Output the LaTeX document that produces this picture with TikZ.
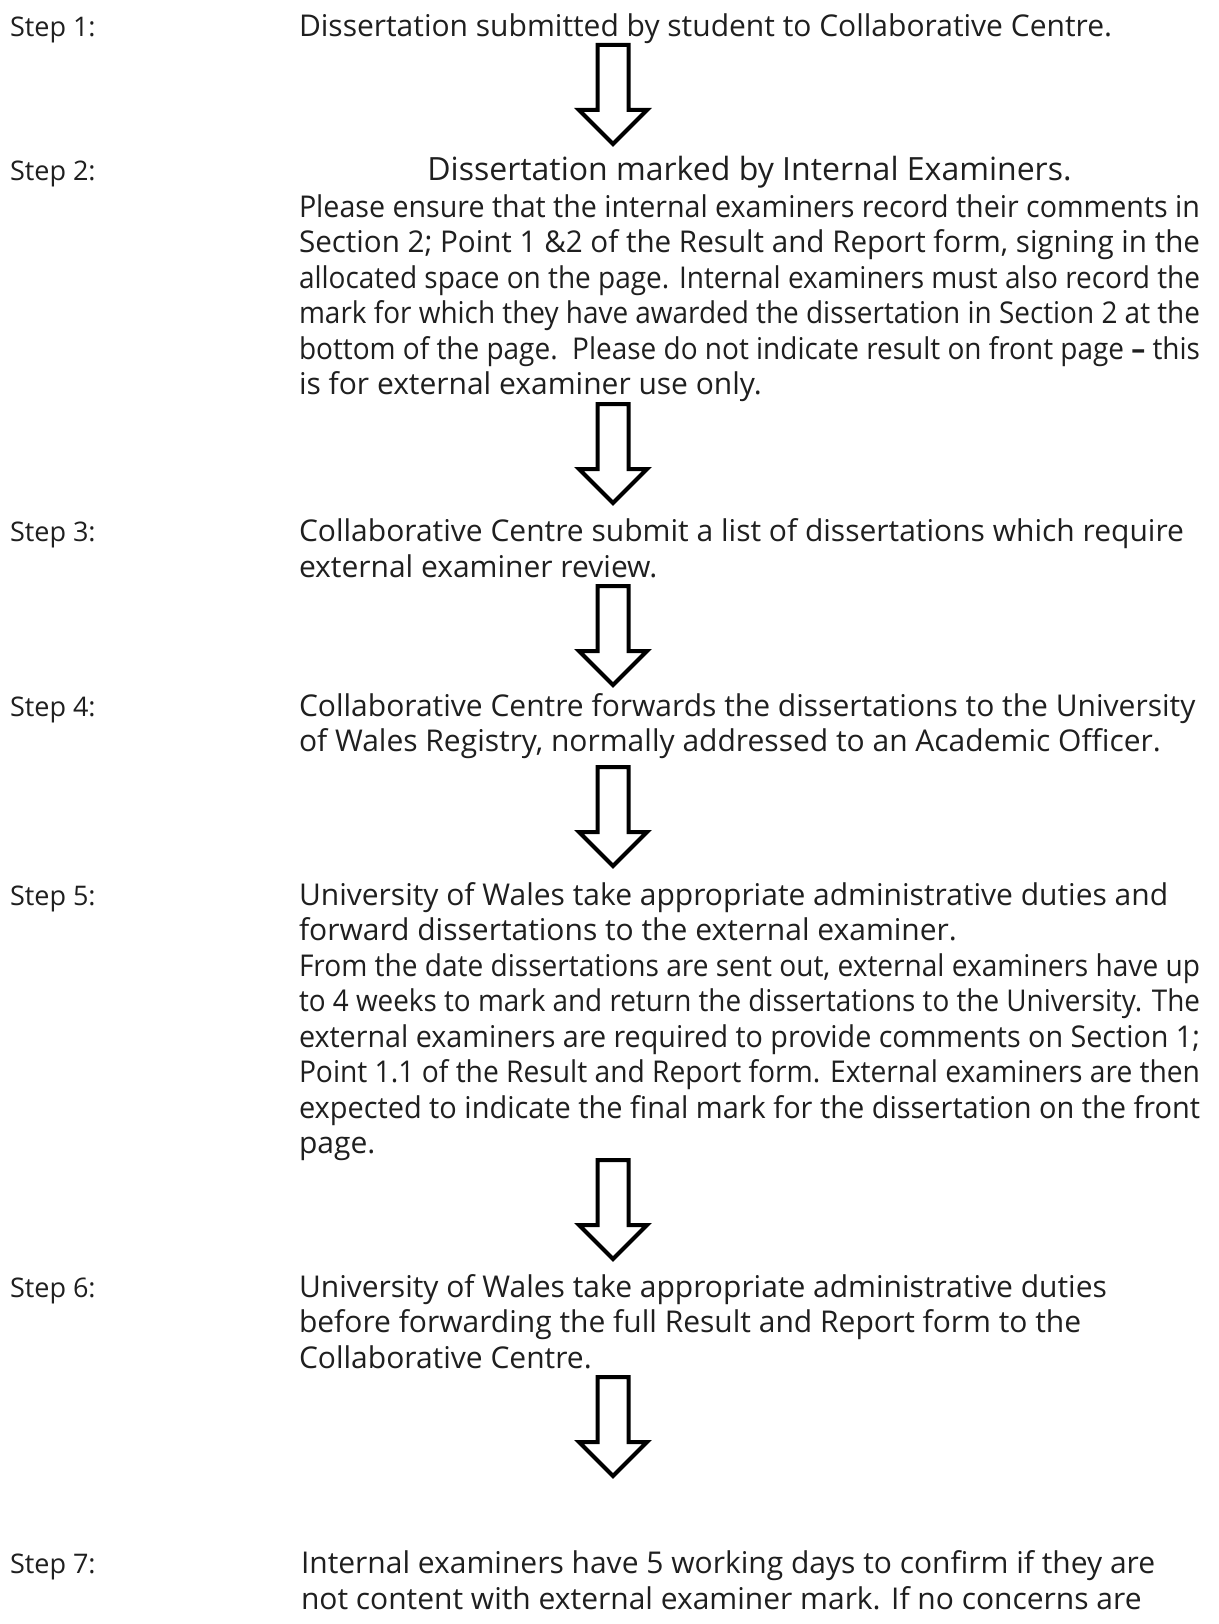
\documentclass[tikz,border=0pt]{standalone}
\usepackage{graphicx}
\usepackage{fontspec}
\setmainfont{Open Sans}
\newcommand\mainfs{\fontsize{30}{35}\selectfont}
\newcommand\lblfs{\fontsize{27}{32}\selectfont}
\newcommand\titlefs{\fontsize{32}{36}\selectfont}
\newsavebox\jlbox
\newcommand\jl[1]{\sbox\jlbox{#1}\ifdim\wd\jlbox>901pt\resizebox{901pt}{\height}{#1}\else\makebox[901pt][s]{#1}\fi}
\begin{document}
\begin{tikzpicture}[x=1pt,y=-1pt,
  txt/.style={anchor=base west, inner sep=0pt, outer sep=0pt, font=\mainfs, text=black!88},
  lbl/.style={txt, font=\lblfs},
  blockarrow/.pic={\draw[line width=4pt, line join=miter, miter limit=10]
     (-15.5,0) -- (15.5,0) -- (15.5,65) -- (34,65) -- (0,99) -- (-34,65) -- (-15.5,65) -- cycle;}]
\useasboundingbox (0,0) rectangle (1218,1624);
\fill[white] (0,0) rectangle (1218,1624);
% Step 1
\node[lbl] (s1) at (10,37) {Step 1:};
\node[txt] (t1) at (299,37) {Dissertation submitted by student to Collaborative Centre.};
\pic (a1) at (613,45) {blockarrow};
% Step 2
\node[lbl] (s2) at (10,181) {Step 2:};
\node[txt, anchor=base, font=\titlefs] (t2) at (749.5,181) {Dissertation marked by Internal Examiners.};
\node[txt] (p2a) at (299,217) {\jl{Please ensure that the internal examiners record their comments in}};
\node[txt] (p2b) at (299,252.5) {\jl{Section 2; Point 1 \&2 of the Result and Report form, signing in the}};
\node[txt] (p2c) at (299,288) {\jl{allocated space on the page. Internal examiners must also record the}};
\node[txt] (p2d) at (299,323.5) {\jl{mark for which they have awarded the dissertation in Section 2 at the}};
\node[txt] (p2e) at (299,359) {\jl{bottom of the page.\ \ Please do not indicate result on front page \textbf{–} this}};
\node[txt] (p2f) at (299,394.5) {is for external examiner use only.};
\pic (a2) at (613,404) {blockarrow};
% Step 3
\node[lbl] (s3) at (10,541) {Step 3:};
\node[txt] (t3a) at (299,541) {Collaborative Centre submit a list of dissertations which require};
\node[txt] (t3b) at (299,577) {external examiner review.};
\pic (a3) at (613,586) {blockarrow};
% Step 4
\node[lbl] (s4) at (10,716) {Step 4:};
\node[txt] (t4a) at (299,716) {Collaborative Centre forwards the dissertations to the University};
\node[txt] (t4b) at (299,751) {of Wales Registry, normally addressed to an Academic Officer.};
\pic (a4) at (613,767) {blockarrow};
% Step 5
\node[lbl] (s5) at (10,905) {Step 5:};
\node[txt] (t5a) at (299,905) {University of Wales take appropriate administrative duties and};
\node[txt] (t5b) at (299,940.5) {forward dissertations to the external examiner.};
\node[txt] (t5c) at (299,976) {\jl{From the date dissertations are sent out, external examiners have up}};
\node[txt] (t5d) at (299,1011.5) {\jl{to 4 weeks to mark and return the dissertations to the University. The}};
\node[txt] (t5e) at (299,1047) {\jl{external examiners are required to provide comments on Section 1;}};
\node[txt] (t5f) at (299,1082.5) {\jl{Point 1.1 of the Result and Report form. External examiners are then}};
\node[txt] (t5g) at (299,1118) {\jl{expected to indicate the final mark for the dissertation on the front}};
\node[txt] (t5h) at (299,1153.5) {page.};
\pic (a5) at (613,1160) {blockarrow};
% Step 6
\node[lbl] (s6) at (10,1297) {Step 6:};
\node[txt] (t6a) at (299,1297) {University of Wales take appropriate administrative duties};
\node[txt] (t6b) at (299,1332.5) {before forwarding the full Result and Report form to the};
\node[txt] (t6c) at (299,1368) {Collaborative Centre.};
\pic (a6) at (613,1377) {blockarrow};
% Step 7
\node[lbl] (s7) at (10,1573) {Step 7:};
\node[txt] (t7a) at (301,1573) {Internal examiners have 5 working days to confirm if they are};
\node[txt] (t7b) at (301,1609) {not content with external examiner mark. If no concerns are};
\end{tikzpicture}
\end{document}
